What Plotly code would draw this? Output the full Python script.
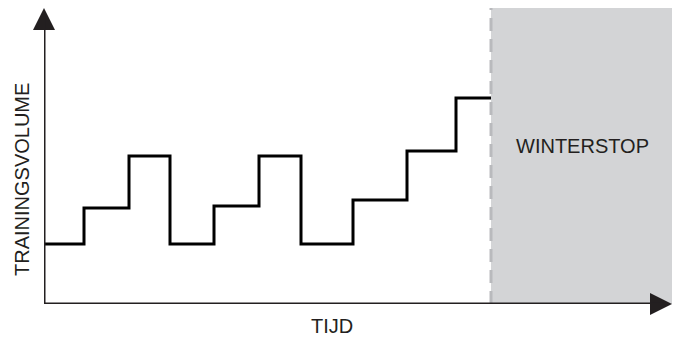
import plotly.graph_objects as go

# Step data (arbitrary time units / volume units)
step_times = [0, 40, 85, 126, 170, 215, 257, 309, 363, 412, 447]
volume = [60, 96, 148, 60, 98, 148, 60, 104, 153, 206, 206]
winter_start = 447
time_end = 628
vol_top = 296

x_title = "TIJD"
y_title = "TRAININGSVOLUME"
region_label = "WINTERSTOP"

ink = "#231f20"
font = dict(family="Liberation Sans, Arial, sans-serif", size=20, color=ink)

fig = go.Figure()

# Winterstop region
fig.add_shape(type="rect", xref="x", yref="paper", x0=winter_start, x1=time_end,
              y0=0, y1=1.0, fillcolor="#d3d4d6", line_width=0, layer="below")
fig.add_shape(type="line", xref="x", yref="paper", x0=winter_start, x1=winter_start,
              y0=0, y1=1.0, line=dict(color="#b9babd", width=3, dash="13px,8px"),
              layer="below")

# Axis lines
fig.add_shape(type="line", xref="x", yref="y", x0=0, x1=time_end - 8, y0=0, y1=0,
              line=dict(color=ink, width=3), layer="above")
fig.add_shape(type="line", xref="x", yref="y", x0=0, x1=0, y0=0, y1=vol_top - 8,
              line=dict(color=ink, width=3), layer="above")

fig.add_trace(go.Scatter(
    x=step_times, y=volume, mode="lines", line_shape="hv",
    line=dict(color="#000000", width=3), hoverinfo="skip", showlegend=False,
))

# Arrow heads at axis ends
fig.add_trace(go.Scatter(
    x=[time_end, 0], y=[0, vol_top], mode="markers", cliponaxis=False,
    marker=dict(symbol=["arrow-right", "arrow-up"], size=22, color=ink,
                line=dict(width=0)),
    hoverinfo="skip", showlegend=False,
))

fig.add_annotation(x=(winter_start + time_end) / 2, y=158, xref="x", yref="y",
                   text=region_label, showarrow=False, font=font, xshift=1)

# Axis titles
fig.add_annotation(x=(332 - 44) / 628, y=0, xref="paper", yref="paper", text=x_title,
                   showarrow=False, font=font, yanchor="middle", yshift=-22)
fig.add_annotation(x=0, y=(304 - 180) / 296, xref="paper", yref="paper", text=y_title,
                   showarrow=False, font=font, textangle=-90, xanchor="center",
                   xshift=-22)

fig.update_xaxes(range=[0, time_end], visible=False, fixedrange=True)
fig.update_yaxes(range=[0, vol_top], visible=False, fixedrange=True)
fig.update_layout(
    width=672, height=329,
    margin=dict(l=36, r=8, t=0, b=33),
    paper_bgcolor="white", plot_bgcolor="white",
    showlegend=False,
)

fig.write_html("out.html")
